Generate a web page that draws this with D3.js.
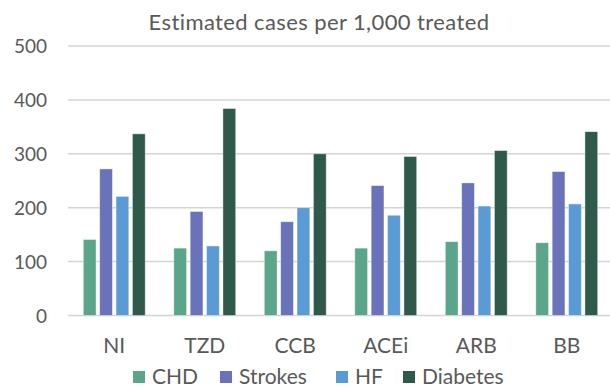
<!DOCTYPE html>
<html>
<head>
<meta charset="utf-8">
<script src="https://cdn.jsdelivr.net/npm/d3@7"></script>
<style>
  body { margin: 0; background: #fff; }
  text { font-family: Lato, "Open Sans", sans-serif; fill: #595959; }
</style>
</head>
<body>
<svg id="chart"></svg>
<script>
// data
const drugs = ["NI", "TZD", "CCB", "ACEi", "ARB", "BB"];
const outcomes = ["CHD", "Strokes", "HF", "Diabetes"];
const chd = [141, 125, 120, 125, 137, 135];
const strokes = [272, 193, 174, 241, 246, 267];
const hf = [221, 129, 200, 186, 203, 207];
const diabetes = [337, 384, 300, 295, 306, 341];
const yTicks = [0, 100, 200, 300, 400, 500];
const colors = ["#5ba58b", "#6a73ba", "#5b9bd5", "#2f5a4b"];

const series = [chd, strokes, hf, diabetes];

const width = 610, height = 388;
const margin = { top: 46, right: -2, bottom: 72, left: 69 };

const svg = d3.select("#chart")
    .attr("width", width)
    .attr("height", height);

const x = d3.scaleBand()
    .domain(drugs)
    .range([margin.left, width - margin.right])
    .paddingInner(0.316)
    .paddingOuter(0.158);

const xs = d3.scaleBand()
    .domain(outcomes)
    .range([0, x.bandwidth()])
    .paddingInner(0.22);

const y = d3.scaleLinear()
    .domain([0, 500])
    .range([height - margin.bottom - 0.5, margin.top]);

const color = d3.scaleOrdinal()
    .domain(outcomes)
    .range(colors);

// gridlines
svg.append("g")
    .selectAll("line")
    .data(yTicks)
    .join("line")
    .attr("x1", 68)
    .attr("x2", width)
    .attr("y1", d => y(d))
    .attr("y2", d => y(d))
    .attr("stroke", "#d4d4d4")
    .attr("stroke-width", 1.5);

// y axis labels
const yAxis = d3.axisLeft(y).tickValues(yTicks).tickSize(0).tickPadding(0);
svg.append("g")
    .attr("transform", "translate(47,0)")
    .call(yAxis)
    .call(g => g.select(".domain").remove())
    .selectAll("text")
    .attr("font-size", 19)
    .style("font-family", "Lato, sans-serif")
    .attr("fill", "#595959")
    .attr("dy", "0.35em");

// bars
const rows = drugs.map((d, i) => ({ drug: d, values: outcomes.map((o, j) => ({ key: o, value: series[j][i] })) }));

svg.append("g")
    .selectAll("g")
    .data(rows)
    .join("g")
    .attr("transform", d => `translate(${x(d.drug)},0)`)
    .selectAll("rect")
    .data(d => d.values)
    .join("rect")
    .attr("x", d => xs(d.key))
    .attr("y", d => y(d.value))
    .attr("width", xs.bandwidth())
    .attr("height", d => y(0) - y(d.value))
    .attr("fill", d => color(d.key))
    .attr("stroke", "#ffffff")
    .attr("stroke-opacity", 0.5)
    .attr("stroke-width", 0.8);

// x axis labels
const xAxis = d3.axisBottom(x).tickSize(0).tickPadding(0);
svg.append("g")
    .attr("transform", "translate(0,353)")
    .call(xAxis)
    .call(g => g.select(".domain").remove())
    .selectAll("text")
    .attr("font-size", 21)
    .style("font-family", "Lato, sans-serif")
    .attr("fill", "#595959")
    .attr("dy", 0);

// title
svg.append("text")
    .attr("x", 319)
    .attr("y", 30)
    .attr("text-anchor", "middle")
    .attr("font-size", 22)
    .attr("letter-spacing", 0.4)
    .text("Estimated cases per 1,000 treated");

// legend
const legendX = [133, 220, 336, 403];
const legend = svg.append("g")
    .selectAll("g")
    .data(outcomes)
    .join("g")
    .attr("transform", (d, i) => `translate(${legendX[i]},371)`);

legend.append("rect")
    .attr("width", 12)
    .attr("height", 12)
    .attr("fill", d => color(d));

legend.append("text")
    .attr("x", 19)
    .attr("y", 12.5)
    .attr("font-size", 21)
    .text(d => d);
</script>
</body>
</html>
